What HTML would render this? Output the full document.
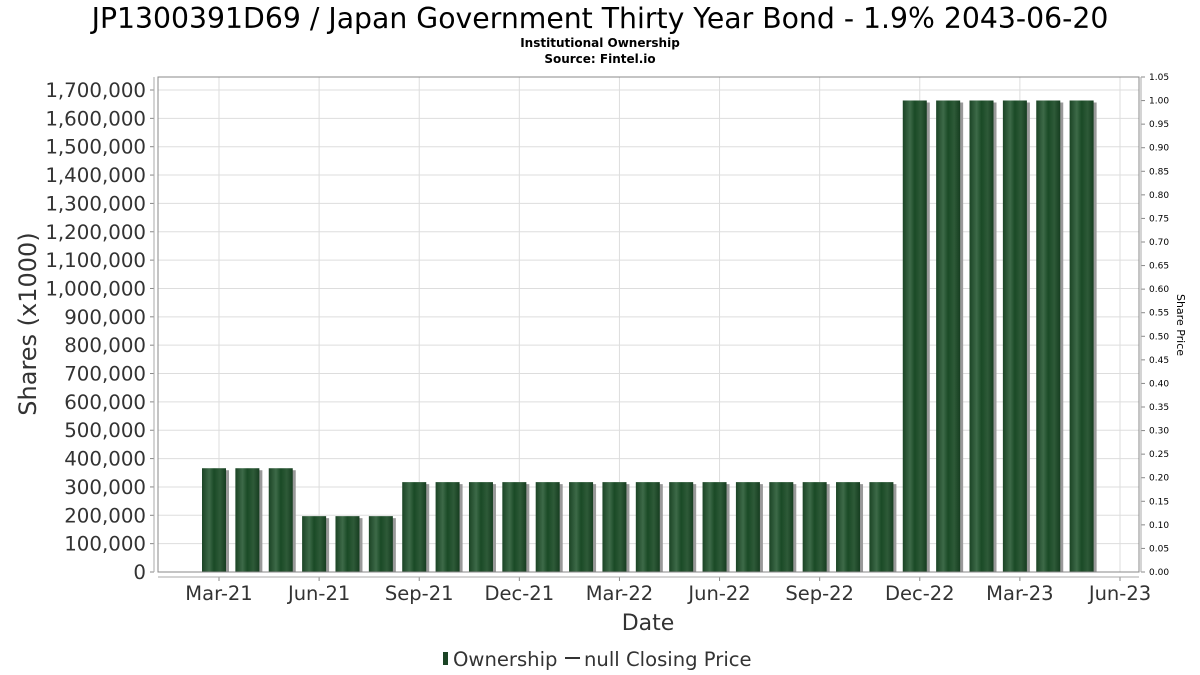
<!DOCTYPE html>
<html><head><meta charset="utf-8"><style>
body{margin:0;background:#fff;}
svg{display:block;font-family:"DejaVu Sans","Liberation Sans",sans-serif;}
</style></head><body>
<svg id="chart" width="1200" height="675" viewBox="0 0 1200 675">
<defs>
<linearGradient id="bg" x1="0" x2="1" y1="0" y2="0">
<stop offset="0" stop-color="#1b4425"/><stop offset="0.3" stop-color="#3d6a48"/><stop offset="0.5" stop-color="#1a4a26"/><stop offset="0.75" stop-color="#2e5a38"/><stop offset="1" stop-color="#163d20"/>
</linearGradient>
</defs>
<text x="600" y="28" font-size="28.3" text-anchor="middle" fill="#000">JP1300391D69 / Japan Government Thirty Year Bond - 1.9% 2043-06-20</text>
<text x="600" y="47" font-size="12" font-weight="bold" text-anchor="middle" fill="#000">Institutional Ownership</text>
<text x="600" y="63" font-size="12" font-weight="bold" text-anchor="middle" fill="#000">Source: Fintel.io</text>
<g id="grid"></g><g id="bars"></g><g id="axes"></g>
<text transform="translate(36,324) rotate(-90)" font-size="24" text-anchor="middle" fill="#333">Shares (x1000)</text>
<text transform="translate(1177,325) rotate(90)" font-size="11" text-anchor="middle" fill="#000">Share Price</text>
<text x="648" y="630" font-size="22" text-anchor="middle" fill="#333">Date</text>
<g>
<rect x="443" y="652" width="5" height="13" fill="#1b4425"/>
<text x="453" y="666" font-size="19.6" fill="#333">Ownership</text>
<line x1="565" y1="658" x2="580" y2="658" stroke="#333" stroke-width="2"/>
<text x="584" y="666" font-size="19.6" fill="#333">null Closing Price</text>
</g>
</svg>
<script>
const barMonths=[2,3,4,5,6,7,8,9,10,11,12,13,14,15,16,17,18,19,20,21,22,23,24,25,26,27,28];
const barValues=[366000,366000,366000,197000,197000,197000,317000,317000,317000,317000,317000,317000,317000,317000,317000,317000,317000,317000,317000,317000,317000,1663000,1663000,1663000,1663000,1663000,1663000];
const xTickMonths=[2,5,8,11,14,17,20,23,26,29];
const xTickLabels=["Mar-21","Jun-21","Sep-21","Dec-21","Mar-22","Jun-22","Sep-22","Dec-22","Mar-23","Jun-23"];
const yTicks=[0,100000,200000,300000,400000,500000,600000,700000,800000,900000,1000000,1100000,1200000,1300000,1400000,1500000,1600000,1700000];
const priceTicks=[0,0.05,0.1,0.15,0.2,0.25,0.3,0.35,0.4,0.45,0.5,0.55,0.6,0.65,0.7,0.75,0.8,0.85,0.9,0.95,1.0,1.05];
const NS="http://www.w3.org/2000/svg";
const L=158,R=1139,T=77,B=572;
function x(m){return 219+(m-2)*33.37;}
function y(v){return B-v/1700000*(B-90);}
function yp(p){return B-p/1.05*(B-T);}
function mk(tag,attrs,parent,txt){const e=document.createElementNS(NS,tag);for(const k in attrs)e.setAttribute(k,attrs[k]);if(txt!==undefined)e.textContent=txt;document.getElementById(parent).appendChild(e);return e;}
mk('rect',{x:L,y:T,width:R-L,height:B-T,fill:'#fff',stroke:'none'},'grid');
yTicks.forEach((v,i)=>{
 const g=mk('line',{x1:L,x2:R,y1:y(v),y2:y(v),stroke:'#ddd'},'grid');
 
 
 mk('line',{x1:150,x2:154,y1:y(v),y2:y(v),stroke:'#888'},'axes');
 const lb=mk('text',{x:146,y:y(v)+7,'font-size':19.8,'text-anchor':'end',fill:'#333'},'axes',v.toLocaleString('en-US'));
 
 
});
xTickMonths.forEach((m,i)=>{
 const g=mk('line',{x1:x(m),x2:x(m),y1:T,y2:B,stroke:'#ddd'},'grid');
 
 
 mk('line',{x1:x(m),x2:x(m),y1:577,y2:581,stroke:'#888'},'axes');
 const lb=mk('text',{x:x(m),y:600,'font-size':19.5,'text-anchor':'middle',fill:'#333'},'axes',xTickLabels[i]);
 
 
});
barMonths.forEach((m,i)=>{
 const cx=x(m)-5,top=y(barValues[i]);
 mk('rect',{x:cx-9,y:top+2,width:24,height:B-top-2,fill:'#999'},'bars');
 const b=mk('rect',{x:cx-12,y:top,width:24,height:B-top,fill:'url(#bg)'},'bars');
 
 
});
priceTicks.forEach(p=>{
 mk('line',{x1:1141,x2:1145,y1:yp(p),y2:yp(p),stroke:'#888'},'axes');
 const lb=mk('text',{x:1149,y:yp(p)+3,'font-size':9,fill:'#000'},'axes',p.toFixed(2));
 
 
});
mk('rect',{x:L,y:T,width:R-L,height:B-T,fill:'none',stroke:'#888'},'axes');
mk('line',{x1:154,x2:154,y1:T,y2:B,stroke:'#aaa'},'axes');
mk('line',{x1:L,x2:R,y1:577,y2:577,stroke:'#aaa'},'axes');
mk('line',{x1:1141,x2:1141,y1:T,y2:B,stroke:'#aaa'},'axes');
</script>
</body></html>
